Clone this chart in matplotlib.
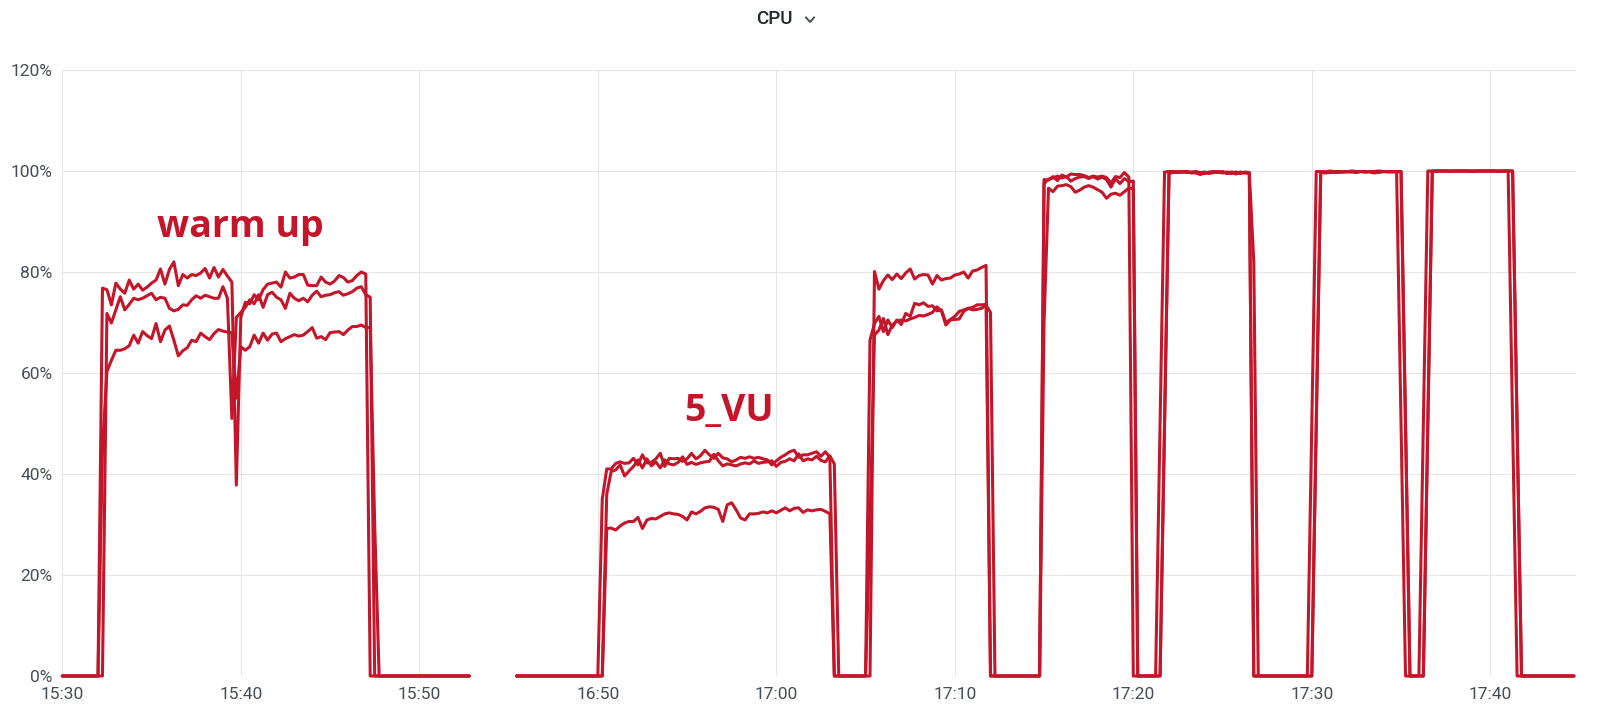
import matplotlib
matplotlib.use("Agg")
import matplotlib.pyplot as plt
from matplotlib.lines import Line2D
import numpy as np

# ---------------- data (CPU %, three hosts, 15 s samples) ----------------
STEP_S = 15
session_start = "15:30:00"
first_idle_end = "15:52:48"
hidden_to = "16:45:00"          # axis hides 15:55 -> 16:45 (50 min)
hidden_minutes = 50
second_idle_start = "16:45:27"
session_end = "17:44:41"

x_tick_labels = ["15:30", "15:40", "15:50", "16:50", "17:00",
                 "17:10", "17:20", "17:30", "17:40"]
y_ticks = [0, 20, 40, 60, 80, 100, 120]

warmup_start = "15:31:45"
warmup_a = [0, 0, 76.8, 76.5, 73.5, 77.8, 76.6, 75.8, 78.4, 76.6, 77.6, 76.4, 77.0,
            77.8, 78.4, 80.6, 77.6, 80.5, 82.0, 77.3, 79.5, 78.8, 79.5, 79.3, 79.8,
            80.7, 78.8, 80.9, 79.0, 80.5, 79.2, 78.0, 37.8, 71.0, 74.0, 73.7, 75.5,
            74.5, 76.5, 77.6, 77.8, 78.0, 77.0, 80.0, 78.8, 79.0, 79.5, 79.5, 77.4,
            77.3, 77.3, 79.0, 78.0, 77.6, 78.2, 79.3, 78.9, 78.0, 78.3, 79.3, 80.0,
            79.6, 0, 0, 0]
warmup_b = [0, 0, 0, 71.8, 69.9, 72.5, 75.1, 72.5, 73.6, 74.8, 74.5, 74.8, 75.3,
            75.8, 74.5, 75.0, 74.8, 72.8, 72.3, 72.6, 73.5, 73.4, 74.5, 75.3, 74.8,
            75.4, 75.1, 74.8, 74.8, 77.1, 74.8, 51.0, 71.0, 72.0, 73.0, 74.5, 73.7,
            75.5, 73.0, 75.5, 76.0, 75.0, 74.5, 72.8, 75.8, 74.8, 74.3, 74.8, 74.1,
            75.4, 76.2, 75.1, 75.4, 75.5, 75.9, 76.1, 75.4, 75.7, 76.1, 76.8, 77.1,
            75.5, 75.0, 0, 0]
warmup_c = [0, 0, 45.0, 60.3, 62.5, 64.5, 64.5, 64.8, 65.4, 67.5, 65.9, 68.2, 67.4,
            66.8, 69.8, 66.2, 68.5, 69.3, 66.5, 63.4, 64.4, 65.0, 66.5, 66.2, 67.9,
            67.2, 66.6, 67.8, 68.6, 68.3, 68.1, 68.0, 55.0, 65.2, 64.5, 65.2, 67.5,
            65.9, 67.9, 66.5, 67.7, 67.9, 66.2, 66.8, 67.2, 67.6, 67.3, 67.5, 68.2,
            69.0, 66.9, 67.2, 66.6, 68.0, 68.1, 68.2, 67.6, 68.5, 69.2, 69.2, 69.5,
            69.0, 69.0, 30.0, 0]

vu5_start = "16:49:45"
vu5_a = [0, 0, 35.0, 41.0, 41.0, 42.1, 42.4, 42.1, 42.2, 43.1, 41.8, 43.8, 42.2,
         42.3, 43.0, 44.1, 41.5, 43.1, 43.0, 43.1, 42.5, 43.0, 44.1, 43.0, 43.6,
         44.7, 43.8, 43.1, 44.1, 43.2, 43.0, 42.4, 42.8, 43.3, 43.1, 43.4, 43.1,
         43.3, 43.0, 42.8, 41.8, 42.6, 43.3, 43.8, 44.4, 44.7, 43.3, 43.8, 43.8,
         44.1, 44.4, 43.5, 44.4, 43.3, 0, 0]
vu5_b = [0, 0, 0, 36.0, 40.5, 40.8, 41.8, 39.6, 40.6, 41.5, 42.8, 41.2, 43.0,
         41.6, 42.4, 41.2, 42.8, 42.0, 41.8, 42.3, 43.4, 41.9, 42.3, 41.9, 42.2,
         42.4, 42.5, 43.9, 42.6, 41.6, 42.0, 41.8, 41.6, 42.0, 42.2, 42.0, 42.6,
         42.1, 42.3, 42.4, 42.6, 41.5, 42.3, 42.5, 43.0, 42.6, 44.0, 42.6, 43.0,
         42.8, 43.5, 42.7, 42.4, 43.6, 42.0, 0]
vu5_c = [0, 0, 0, 29.2, 29.3, 28.9, 29.7, 30.3, 30.6, 30.6, 31.4, 29.2, 30.9,
         31.2, 31.1, 31.6, 32.1, 32.3, 32.1, 32.0, 31.6, 30.9, 32.5, 32.1, 32.6,
         33.3, 33.5, 33.4, 33.0, 30.6, 33.9, 34.3, 32.9, 31.3, 30.9, 32.1, 32.1,
         32.2, 32.5, 32.3, 32.7, 32.3, 32.8, 33.3, 32.7, 33.2, 33.3, 32.4, 32.9,
         32.7, 32.9, 33.0, 32.6, 32.1, 0, 0]

load3_start = "17:05:00"
load3_a = [0, 0, 80.1, 76.6, 78.3, 79.4, 78.5, 79.6, 78.7, 79.8, 80.6, 78.6, 79.3,
           79.5, 79.4, 77.6, 79.3, 78.4, 78.7, 78.8, 79.4, 79.6, 80.0, 78.8, 80.2,
           80.4, 80.9, 81.3, 0, 0]
load3_b = [0, 66.5, 69.8, 71.2, 68.2, 70.5, 69.0, 70.5, 69.6, 71.8, 71.2, 73.8, 73.5,
           73.9, 73.2, 73.3, 72.3, 72.5, 70.0, 70.6, 71.2, 72.2, 72.5, 72.8, 73.0,
           73.5, 73.5, 73.6, 0, 0]
load3_c = [0, 30.0, 67.5, 68.5, 70.8, 67.6, 69.5, 70.3, 70.5, 70.3, 70.7, 71.0, 71.4,
           71.3, 71.6, 72.0, 73.1, 72.3, 69.5, 70.5, 70.6, 70.7, 72.2, 72.8, 72.5,
           72.6, 72.8, 73.4, 72.0, 0]

load4_start = "17:14:45"
load4_a = [0, 98.3, 98.2, 98.9, 98.1, 99.2, 98.8, 99.4, 99.3, 99.3, 99.1, 98.7,
           99.0, 98.8, 99.0, 98.7, 97.6, 98.9, 98.7, 99.7, 98.8, 0, 0]
load4_b = [0, 97.5, 98.4, 98.6, 99.0, 98.6, 98.9, 98.0, 98.5, 98.8, 98.9, 98.5,
           98.9, 98.4, 98.8, 98.3, 96.8, 98.5, 97.5, 98.5, 97.9, 98.0, 0]
load4_c = [0, 70.0, 96.6, 95.9, 97.0, 97.1, 97.3, 96.9, 95.8, 96.2, 96.8, 97.1,
           96.8, 96.3, 95.8, 94.6, 95.4, 95.6, 95.2, 95.9, 96.6, 96.5, 0]

load5_start = "17:21:15"
load5_a = [0, 50, 99.8, 99.9, 99.9, 99.8, 99.9, 99.9, 99.7, 99.6, 99.3, 99.6, 99.8,
           99.8, 99.7, 99.9, 99.6, 99.5, 99.8, 99.6, 99.7, 99.5, 0, 0]
load5_b = [0, 0, 50, 99.6, 99.7, 99.9, 99.8, 99.7, 99.8, 99.9, 99.6, 99.5, 99.7,
           99.9, 99.8, 99.6, 99.8, 99.7, 99.4, 99.8, 99.6, 99.6, 82.0, 0]
load5_c = [0, 0, 50, 99.5, 99.8, 99.7, 99.8, 99.9, 99.6, 99.8, 99.7, 99.8, 99.5,
           99.7, 99.9, 99.8, 99.5, 99.8, 99.7, 99.5, 99.8, 99.7, 0, 0]

load6_start = "17:29:45"
load6_a = [0, 50, 99.9, 99.9, 99.8, 100, 99.9, 99.9, 99.8, 99.9, 100, 99.9, 99.9,
           99.8, 99.9, 99.9, 100, 99.9, 99.9, 99.9, 99.9, 50, 0, 0]
load6_b = [0, 0, 50, 99.8, 99.6, 99.7, 99.8, 99.7, 99.9, 99.8, 99.8, 99.7, 99.9,
           99.9, 99.8, 99.6, 99.8, 99.9, 99.8, 99.9, 99.8, 99.9, 50, 0]
load6_c = [0, 0, 50, 99.9, 99.8, 99.9, 99.7, 99.9, 99.8, 99.9, 99.9, 99.8, 99.9,
           99.8, 99.9, 99.9, 99.7, 99.9, 99.9, 99.8, 99.9, 99.9, 50, 0]

load7_start = "17:36:00"
load7_a = [0, 50, 100, 100, 100, 100, 100, 100, 100, 100, 100, 100, 100, 100, 100,
           100, 100, 100, 100, 100, 100, 50, 0, 0]
load7_b = [0, 0, 50, 100, 100, 100, 100, 100, 100, 100, 100, 100, 100, 100, 100,
           100, 100, 100, 100, 100, 100, 100, 50, 0]
load7_c = [0, 0, 50, 99.9, 100, 100, 100, 99.9, 100, 100, 100, 100, 99.9, 100, 100,
           100, 100, 100, 99.9, 100, 100, 100, 50, 0]

annotations = [("warm up", "15:40:00", 87.0), ("5_VU", "16:57:20", 50.5)]

LINE_COLOR = "#C4162A"

# ---------------- helpers ----------------
def to_sec(t):
    h, m, s = (int(v) for v in t.split(":"))
    return h * 3600 + m * 60 + s

def axis_pos(t_sec):
    """minutes from session start, with the hidden period removed"""
    minutes = (t_sec - to_sec(session_start)) / 60.0
    if t_sec >= to_sec(hidden_to):
        minutes -= hidden_minutes
    return minutes

def pos_of(t):
    return axis_pos(to_sec(t) if isinstance(t, str) else t)

phases = [
    (warmup_start, warmup_a, warmup_b, warmup_c),
    (vu5_start, vu5_a, vu5_b, vu5_c),
    (load3_start, load3_a, load3_b, load3_c),
    (load4_start, load4_a, load4_b, load4_c),
    (load5_start, load5_a, load5_b, load5_c),
    (load6_start, load6_a, load6_b, load6_c),
    (load7_start, load7_a, load7_b, load7_c),
]

xs = [pos_of(session_start)]
ys = [[0.0], [0.0], [0.0]]

def add_phase(ph):
    start, *vals = ph
    t0 = to_sec(start)
    for i in range(len(vals[0])):
        xs.append(axis_pos(t0 + i * STEP_S))
        for k in range(3):
            ys[k].append(vals[k][i])

add_phase(phases[0])
xs.append(pos_of(first_idle_end)); [y.append(0.0) for y in ys]
xs.append(np.nan); [y.append(np.nan) for y in ys]
xs.append(pos_of(second_idle_start)); [y.append(0.0) for y in ys]
for ph in phases[1:]:
    add_phase(ph)
xs.append(pos_of(session_end)); [y.append(0.0) for y in ys]

# ---------------- figure ----------------
plt.rcParams["font.family"] = ["Roboto", "DejaVu Sans"]
W, H = 1608, 713
fig = plt.figure(figsize=(W / 100, H / 100), dpi=100)
fig.patch.set_facecolor("white")

x_left, x_right, y_top, y_bottom = 62.3, 1576.0, 70.0, 676.0
ax = fig.add_axes([x_left / W, 1 - y_bottom / H, (x_right - x_left) / W,
                   (y_bottom - y_top) / H])

for k in range(3):
    ax.plot(xs, ys[k], color=LINE_COLOR, lw=2.2, solid_joinstyle="round",
            solid_capstyle="round", clip_on=False, zorder=3)

ax.set_ylim(0, 120)
ax.set_xlim(0, (x_right - x_left) / 17.85)
ax.set_yticks(y_ticks)
ax.set_yticklabels([f"{v}%" for v in y_ticks])
ax.set_xticks([pos_of(l + ":00") for l in x_tick_labels])
ax.set_xticklabels(x_tick_labels)

for s in ax.spines.values():
    s.set_visible(False)
ax.grid(True, color="#e6e6e6", lw=0.8)
ax.set_axisbelow(True)
ax.tick_params(axis="both", length=0, labelsize=12.5, colors="#464c54")
ax.tick_params(axis="y", pad=7)
ax.tick_params(axis="x", pad=8)

for txt, t, v in annotations:
    ax.text(pos_of(t), v, txt, color=LINE_COLOR, fontsize=27,
            fontweight="bold", family=["Open Sans", "DejaVu Sans"],
            ha="center", va="baseline", zorder=4)

# panel title with chevron
fig.text(774 / W, 1 - 19.5 / H, "CPU", ha="center", va="center",
         fontsize=13.5, fontweight="medium", color="#24292e")
cx, cy = 810 / W, 1 - 20 / H
fig.add_artist(Line2D([cx - 4 / W, cx, cx + 4 / W], [cy + 2.5 / H, cy - 2 / H, cy + 2.5 / H],
                      color="#4a4f55", lw=1.4, transform=fig.transFigure))

fig.savefig("out.png", dpi=100, facecolor="white")
